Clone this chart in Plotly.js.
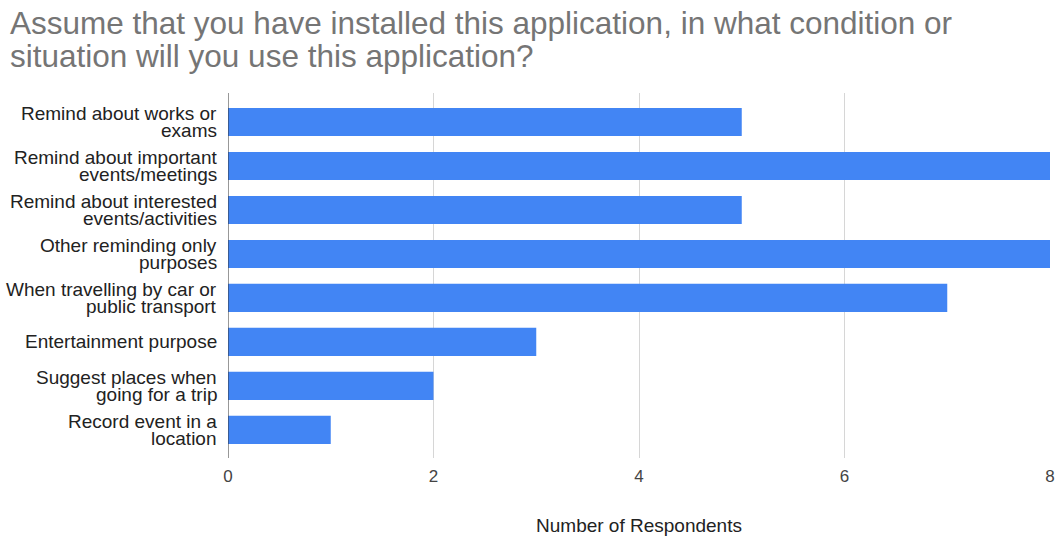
<!DOCTYPE html>
<html>
<head>
<meta charset="utf-8">
<script src="https://cdn.plot.ly/plotly-3.0.1.min.js"></script>
<style>html,body{margin:0;padding:0;background:#fff;}#chart{width:1061px;height:536px;}</style>
</head>
<body>
<div id="chart"></div>
<script>
const categories = [
  "Remind about works or<br>exams",
  "Remind about important<br>events/meetings",
  "Remind about interested<br>events/activities",
  "Other reminding only<br>purposes",
  "When travelling by car or<br>public transport",
  "Entertainment purpose",
  "Suggest places when<br>going for a trip",
  "Record event in a<br>location"
];
const respondents = [5, 8, 5, 8, 7, 3, 2, 1];
const xTicks = [0, 2, 4, 6, 8];
const titleLines = [
  "Assume that you have installed this application, in what condition or",
  "situation will you use this application?"
];
const xTitle = "Number of Respondents";

const font = "Arial, 'Liberation Sans', sans-serif";
const W = 1061, H = 536;
const M = {l: 228, r: 11, t: 93, b: 78};
const plotW = W - M.l - M.r, plotH = H - M.t - M.b;

const data = [{
  type: "bar",
  orientation: "h",
  y: categories,
  x: respondents,
  marker: {color: "#4285F4"},
  hoverinfo: "x+y"
}];

// category labels, one annotation per text line (tight line pitch like the original)
const labelAnns = [];
categories.forEach(cat => {
  const lines = cat.split("<br>");
  const pitch = 17;
  lines.forEach((ln, i) => {
    labelAnns.push({
      text: ln,
      xref: "paper", yref: "y",
      x: 0, xanchor: "right", xshift: -9,
      y: cat, yanchor: "middle",
      yshift: -((i - (lines.length - 1) / 2) * pitch),
      showarrow: false,
      font: {size: 19, color: "#222222", family: font}
    });
  });
});

const titleAnns = titleLines.map((t, i) => ({
  text: t,
  xref: "paper", yref: "paper",
  x: (8 - M.l) / plotW, xanchor: "left",
  y: 1 + (M.t - 23.5 - i * 32) / plotH, yanchor: "middle",
  showarrow: false,
  font: {size: 31.5, color: "#757575", family: font}
}));

const layout = {
  width: W,
  height: H,
  margin: M,
  paper_bgcolor: "#ffffff",
  plot_bgcolor: "#ffffff",
  showlegend: false,
  bargap: 0.36,
  font: {family: font, color: "#222222"},
  xaxis: {
    range: [0, 8],
    tickvals: xTicks,
    ticktext: xTicks.map(String),
    showgrid: true,
    gridcolor: "#d6d6d6",
    gridwidth: 1,
    zeroline: false,
    showline: false,
    ticks: "",
    tickfont: {size: 17, color: "#444444", family: font},
    ticklabelstandoff: 6,
    title: {text: xTitle, font: {size: 19, color: "#222222", family: font}, standoff: 35}
  },
  yaxis: {
    type: "category",
    range: [7.64, -0.66],
    showgrid: false,
    zeroline: false,
    showline: false,
    showticklabels: false,
    ticks: ""
  },
  shapes: [{
    type: "line", xref: "x", yref: "paper",
    x0: 0, x1: 0, y0: 0, y1: 1,
    line: {color: "#333333", width: 1}
  }],
  annotations: titleAnns.concat(labelAnns)
};

Plotly.newPlot("chart", data, layout, {displayModeBar: false, staticPlot: true});
</script>
</body>
</html>
